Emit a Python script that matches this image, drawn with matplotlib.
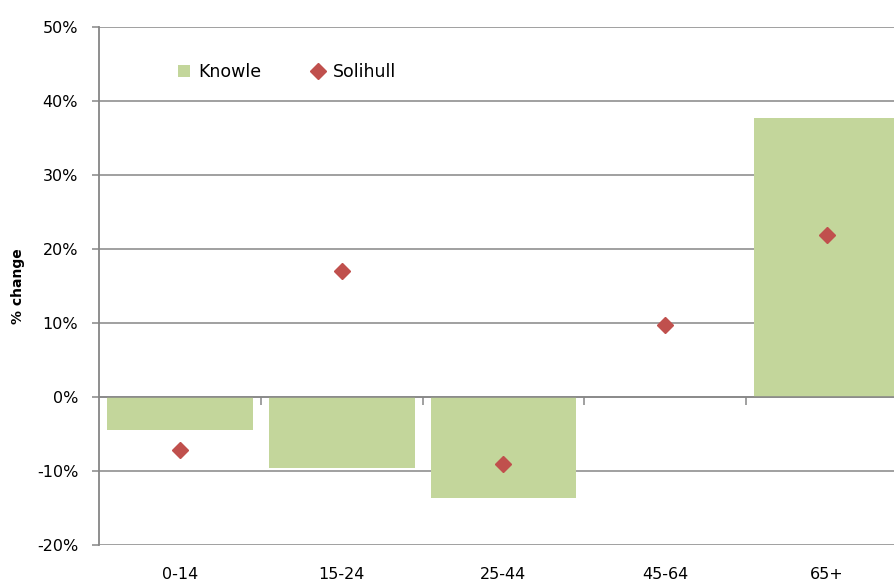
import matplotlib
matplotlib.use("Agg")
import matplotlib.pyplot as plt
from matplotlib.ticker import FuncFormatter

age_groups = ["0-14", "15-24", "25-44", "45-64", "65+"]
knowle = [-4.5, -9.6, -13.7, 0.0, 37.7]
solihull = [-7.1, 17.0, -9.0, 9.7, 21.9]
y_ticks = [-20, -10, 0, 10, 20, 30, 40, 50]

COL_BAR = "#C3D69B"
COL_MARK = "#C0504D"
COL_GRID = "#868686"

fig = plt.figure(figsize=(8.95, 5.85), dpi=100)
# right edge runs past the figure like the original crop
ax = fig.add_axes([99 / 895, 40 / 585, 809 / 895, 518 / 585])

x = list(range(len(age_groups)))
bars = ax.bar(x, knowle, width=0.9, color=COL_BAR, label="Knowle", zorder=2)
pts, = ax.plot(x, solihull, linestyle="none", marker="D", markersize=8,
               color=COL_MARK, label="Solihull", zorder=4)

ax.set_xlim(-0.5, len(age_groups) - 0.5)
ax.set_ylim(-20, 50)
ax.set_yticks(y_ticks)
ax.yaxis.set_major_formatter(FuncFormatter(lambda v, p: f"{v:.0f}%"))
ax.grid(axis="y", color=COL_GRID, linewidth=1.1, zorder=1)
ax.set_axisbelow(True)

# zero axis with category-boundary ticks
ax.axhline(0, color=COL_GRID, linewidth=1.1, zorder=3)
bounds = [i + 0.5 for i in x]
ax.vlines(bounds, -1.1, 0, color=COL_GRID, linewidth=1.1, zorder=3)

for s in ["top", "right", "bottom"]:
    ax.spines[s].set_visible(False)
ax.spines["left"].set_color(COL_GRID)
ax.spines["left"].set_linewidth(1.3)

ax.set_xticks(x)
ax.set_xticklabels(age_groups)
ax.tick_params(axis="x", length=0, pad=16, labelsize=11.5)
ax.tick_params(axis="y", length=5, width=1.1, color=COL_GRID, pad=10, labelsize=11.5)

fig.text(18 / 895, 1 - 286 / 585, "% change", rotation=90, fontweight="bold",
         fontsize=10, ha="center", va="center")

ax.legend([bars, pts], ["Knowle", "Solihull"], loc="center left",
          bbox_to_anchor=(0.078, 0.913), ncol=2, frameon=False,
          fontsize=12.5, handlelength=0.7, handleheight=0.7, handletextpad=0.5,
          columnspacing=2.9)

fig.savefig("out.png", dpi=100)
